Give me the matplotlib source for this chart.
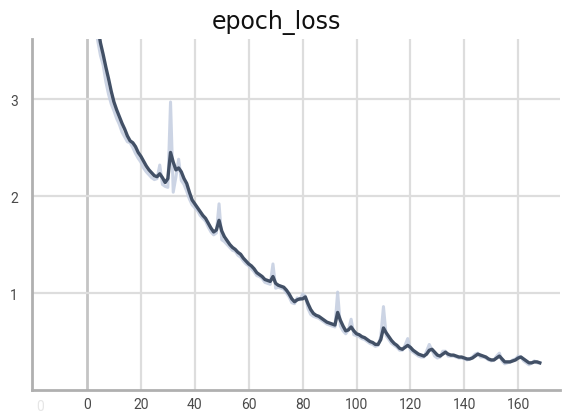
import matplotlib
matplotlib.use("Agg")
import matplotlib.pyplot as plt

title = "epoch_loss"

# raw epoch loss (light line) and smoothed loss (dark line), epochs 0..168
raw_loss = [4.9, 4.45, 4.1, 3.8, 3.6, 3.45, 3.35, 3.18, 3.05, 2.95,
            2.88, 2.80, 2.74, 2.66, 2.61, 2.56, 2.55, 2.50, 2.44, 2.39,
            2.35, 2.29, 2.25, 2.22, 2.19, 2.17, 2.18, 2.32, 2.12, 2.10,
            2.09, 2.97, 2.04, 2.20, 2.38, 2.16, 2.12, 2.05, 1.97, 1.91,
            1.88, 1.85, 1.80, 1.77, 1.74, 1.68, 1.63, 1.60, 1.62, 1.92,
            1.55, 1.53, 1.50, 1.47, 1.44, 1.43, 1.39, 1.37, 1.33, 1.30,
            1.28, 1.25, 1.22, 1.18, 1.17, 1.15, 1.11, 1.10, 1.09, 1.30,
            1.05, 1.06, 1.05, 1.04, 1.00, 0.96, 0.90, 0.89, 0.95, 0.93,
            0.99, 0.97, 0.84, 0.78, 0.76, 0.75, 0.74, 0.72, 0.70, 0.68,
            0.67, 0.66, 0.65, 1.01, 0.66, 0.61, 0.58, 0.62, 0.73, 0.57,
            0.56, 0.55, 0.53, 0.52, 0.50, 0.48, 0.47, 0.45, 0.46, 0.55,
            0.86, 0.56, 0.52, 0.48, 0.46, 0.44, 0.41, 0.41, 0.46, 0.53,
            0.41, 0.39, 0.37, 0.35, 0.34, 0.34, 0.40, 0.47, 0.41, 0.35,
            0.33, 0.34, 0.40, 0.40, 0.35, 0.35, 0.35, 0.34, 0.33, 0.33,
            0.32, 0.31, 0.32, 0.34, 0.37, 0.38, 0.34, 0.34, 0.33, 0.31,
            0.30, 0.31, 0.35, 0.38, 0.30, 0.27, 0.28, 0.29, 0.31, 0.32,
            0.35, 0.34, 0.30, 0.28, 0.26, 0.28, 0.30, 0.28, 0.28]

smooth_loss = [5.2, 4.7, 4.3, 3.98, 3.75, 3.58, 3.46, 3.33, 3.21, 3.08,
               2.97, 2.89, 2.82, 2.75, 2.69, 2.62, 2.57, 2.55, 2.51, 2.45,
               2.41, 2.36, 2.31, 2.27, 2.24, 2.21, 2.20, 2.23, 2.19, 2.14,
               2.18, 2.45, 2.35, 2.27, 2.29, 2.25, 2.18, 2.13, 2.04, 1.96,
               1.92, 1.88, 1.84, 1.80, 1.77, 1.72, 1.67, 1.63, 1.65, 1.75,
               1.64, 1.58, 1.54, 1.50, 1.47, 1.45, 1.42, 1.40, 1.36, 1.33,
               1.30, 1.28, 1.25, 1.21, 1.19, 1.17, 1.14, 1.13, 1.12, 1.17,
               1.10, 1.08, 1.07, 1.06, 1.03, 0.99, 0.94, 0.91, 0.93, 0.94,
               0.94, 0.96, 0.89, 0.83, 0.79, 0.77, 0.76, 0.74, 0.72, 0.70,
               0.69, 0.68, 0.67, 0.80, 0.72, 0.66, 0.61, 0.62, 0.65, 0.61,
               0.58, 0.57, 0.55, 0.54, 0.52, 0.50, 0.49, 0.47, 0.47, 0.52,
               0.64, 0.59, 0.55, 0.51, 0.48, 0.46, 0.43, 0.42, 0.44, 0.46,
               0.44, 0.41, 0.39, 0.37, 0.36, 0.35, 0.37, 0.41, 0.42, 0.39,
               0.36, 0.35, 0.37, 0.39, 0.37, 0.36, 0.36, 0.35, 0.34, 0.34,
               0.33, 0.32, 0.32, 0.33, 0.35, 0.37, 0.36, 0.35, 0.34, 0.32,
               0.31, 0.31, 0.33, 0.35, 0.32, 0.29, 0.29, 0.29, 0.30, 0.31,
               0.33, 0.34, 0.32, 0.30, 0.28, 0.28, 0.29, 0.29, 0.28]

epochs = list(range(len(raw_loss)))
x_ticks = [0, 20, 40, 60, 80, 100, 120, 140, 160]
y_ticks = [1, 2, 3]

plt.rcParams['font.family'] = ['Roboto', 'DejaVu Sans']

fig = plt.figure(figsize=(5.62, 4.14), dpi=100)
ax = fig.add_axes([32/562, 1-391/414, 528/562, 351/414])

# grid
for xt in x_ticks:
    ax.axvline(xt, color="#dddddd" if xt else "#c4c4c4", lw=1.6 if xt else 2.0, zorder=0)
for yt in y_ticks:
    ax.axhline(yt, color="#dddddd", lw=1.6, zorder=0)

ax.plot(epochs, raw_loss, color="#c3cde0", lw=2.2, alpha=0.85, zorder=2)
ax.plot(epochs, smooth_loss, color="#425066", lw=2.4, zorder=3)

ax.set_xlim(-20.4, 175.5)
ax.set_ylim(0, 3.62)
ax.set_xticks(x_ticks)
ax.set_yticks(y_ticks)
ax.tick_params(length=0, labelsize=10, labelcolor="#4a4a4a")
ax.tick_params(axis="x", pad=5)
ax.tick_params(axis="y", pad=10)

for side in ["top", "right"]:
    ax.spines[side].set_visible(False)
for side in ["left", "bottom"]:
    ax.spines[side].set_color("#b0b0b0")
    ax.spines[side].set_linewidth(2)

# faded leftmost tick label
ax.text(-17.5, -0.17, "0", ha="center", va="center", fontsize=10,
        color="#e6e6e6", clip_on=False)

fig.text(0.492, 0.945, title, ha="center", va="center", fontsize=17,
         family=["DejaVu Sans"], color="#111111")

fig.savefig("out.png", dpi=100)
